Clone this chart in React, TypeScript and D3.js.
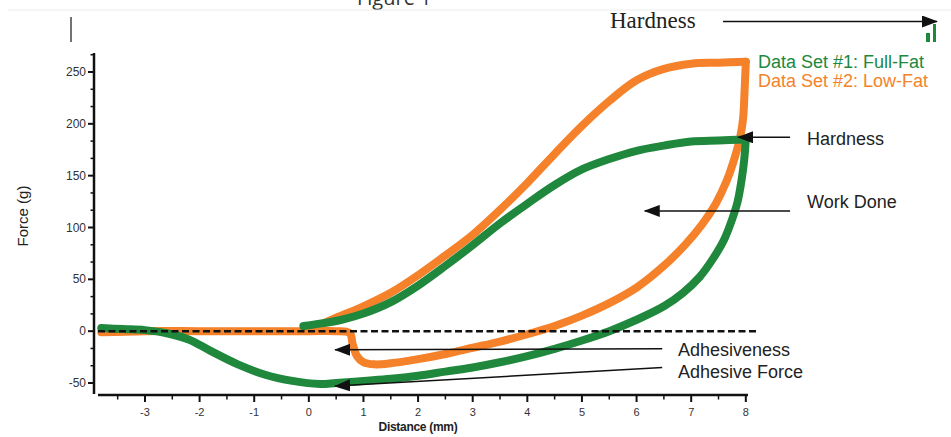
import React from 'react';
import * as d3 from 'd3';

// Full-fat sample (green): probe going down, then coming back up
const greenLoadDist = [-0.1, 0.3, 0.6, 1.0, 1.5, 2.0, 2.5, 3.0, 3.5, 4.0, 4.5, 5.0, 5.5, 6.0, 6.5, 7.0, 7.5, 8.0];
const greenLoadForce = [5, 8, 11, 17, 28, 44, 63, 83, 104, 123, 141, 156, 166, 174, 179, 183, 184, 185];
const greenUnloadDist = [8.0, 7.97, 7.92, 7.85, 7.75, 7.6, 7.4, 7.15, 6.85, 6.5, 6.0, 5.5, 5.0, 4.5, 4.0, 3.5, 3.0, 2.5, 2.0, 1.5, 1.0, 0.5, 0.2, -0.3, -0.8, -1.3, -1.8, -2.2, -2.6, -3.0, -3.4, -3.8];
const greenUnloadForce = [185, 165, 145, 125, 108, 88, 70, 52, 37, 24, 11, 0, -9, -17, -24, -30, -35, -39, -43, -46, -48, -50, -51, -48, -42, -32, -19, -8, -2, 1, 2, 3];

// Low-fat sample (orange)
const orangeLoadDist = [0.0, 0.5, 1.0, 1.5, 2.0, 2.5, 3.0, 3.5, 4.0, 4.5, 5.0, 5.5, 6.0, 6.5, 7.0, 7.5, 8.0];
const orangeLoadForce = [1, 13, 24, 37, 54, 73, 93, 117, 143, 171, 198, 222, 242, 253, 258, 259, 260];
const orangeUnloadDist = [8.0, 7.98, 7.95, 7.9, 7.8, 7.65, 7.45, 7.2, 6.9, 6.5, 6.0, 5.5, 5.0, 4.5, 4.0, 3.5, 3.0, 2.5, 2.0, 1.5, 1.2, 1.0, 0.88, 0.8, 0.75, 0.5, 0, -1, -2, -3, -3.8];
const orangeUnloadForce = [260, 235, 205, 188, 168, 145, 123, 103, 84, 63, 42, 27, 15, 5, -3, -10, -16, -22, -27, -31, -32, -30, -24, -12, -2, 0, 0, 0, 0, 0, -1];

const xTickValues = [-3, -2, -1, 0, 1, 2, 3, 4, 5, 6, 7, 8];
const yTickValues = [-50, 0, 50, 100, 150, 200, 250];

const legendLabels = ['Data Set #1: Full-Fat', 'Data Set #2: Low-Fat'];

// arrows point at features of the curves (distance, force)
const annotations = [
  { label: 'Hardness', tail: [8.81, 187], tip: [7.86, 187], tx: 807, ty: 145 },
  { label: 'Work Done', tail: [8.81, 116], tip: [6.15, 116], tx: 807, ty: 208 },
  { label: 'Adhesiveness', tail: [6.47, -17], tip: [0.48, -18], tx: 678, ty: 356 },
  { label: 'Adhesive Force', tail: [6.47, -35], tip: [0.48, -53], tx: 678, ty: 378 },
];

const W = 951;
const H = 437;
const GREEN = '#20883d';
const ORANGE = '#f5822a';

const x = d3.scaleLinear().domain([-3.86, 8.04]).range([98, 748]);
const y = d3.scaleLinear().domain([-50, 250]).range([383, 72]);

const line = d3
  .line<[number, number]>()
  .x((d) => x(d[0]))
  .y((d) => y(d[1]))
  .curve(d3.curveCatmullRom.alpha(0.5));

const yMinor = d3.range(-50, 268, 50 / 3).filter((v) => Math.abs(v / 50 - Math.round(v / 50)) > 0.01);
const xMinor = xTickValues.map((v) => v - 0.5);

export default function App() {
  const curves = [
    { d: d3.zip(orangeUnloadDist, orangeUnloadForce), c: ORANGE },
    { d: d3.zip(orangeLoadDist, orangeLoadForce), c: ORANGE },
    { d: d3.zip(greenUnloadDist, greenUnloadForce), c: GREEN },
    { d: d3.zip(greenLoadDist, greenLoadForce), c: GREEN },
  ];

  return (
    <svg
      width={W}
      height={H}
      style={{ position: 'absolute', left: 0, top: 0, background: '#fff' }}
      fontFamily="'Liberation Sans', Arial, sans-serif"
    >
      <defs>
        <marker id="arrow" markerUnits="userSpaceOnUse" markerWidth={16} markerHeight={12} refX={15} refY={6} orient="auto">
          <path d="M0,0 L16,6 L0,12 Z" fill="#111" />
        </marker>
      </defs>

      {/* page remnants above the chart */}
      <text x={357} y={5} fontSize={20} fill="#333" fontFamily="'Open Sans', sans-serif">Figure 1</text>
      <line x1={8} x2={951} y1={10} y2={10} stroke="#ececec" />
      <line x1={71} x2={71} y1={17} y2={42} stroke="#444" strokeWidth={1.5} />
      <text x={610} y={28} fontSize={23} fill="#222" fontFamily="'Liberation Serif', 'Times New Roman', serif">Hardness</text>
      <line x1={723} x2={937} y1={21.5} y2={21.5} stroke="#111" strokeWidth={1.5} markerEnd="url(#arrow)" />
      <rect x={933} y={24} width={3} height={18} fill={GREEN} />
      <rect x={926} y={33} width={4} height={9} fill={GREEN} />

      {/* curves */}
      {curves.map((s, i) => (
        <path key={i} d={line(s.d as [number, number][]) || ''} fill="none" stroke={s.c} strokeWidth={8} strokeLinejoin="round" strokeLinecap="round" />
      ))}

      {/* zero line */}
      <line x1={98} x2={757} y1={y(0)} y2={y(0)} stroke="#111" strokeWidth={2.5} strokeDasharray="7,3.5" />

      {/* y axis */}
      <line x1={94} x2={94} y1={53} y2={394} stroke="#111" strokeWidth={2.5} />
      {yTickValues.map((t) => (
        <g key={t}>
          <line x1={88} x2={94} y1={y(t)} y2={y(t)} stroke="#111" strokeWidth={2} />
          <text x={86} y={y(t) + 4} fontSize={12} fill="#333" textAnchor="end">{t}</text>
        </g>
      ))}
      {yMinor.map((t) => (
        <line key={t} x1={90.5} x2={94} y1={y(t)} y2={y(t)} stroke="#111" strokeWidth={1.5} />
      ))}
      <text transform="translate(28,216) rotate(-90)" fontSize={15} fill="#222" textAnchor="middle">Force (g)</text>

      {/* x axis */}
      <line x1={98} x2={748} y1={395} y2={395} stroke="#111" strokeWidth={2.5} />
      {xTickValues.map((t) => (
        <g key={t}>
          <line x1={x(t)} x2={x(t)} y1={395} y2={402} stroke="#111" strokeWidth={2} />
          <text x={x(t)} y={416} fontSize={11} fill="#333" textAnchor="middle">{t}</text>
        </g>
      ))}
      {xMinor.map((t) => (
        <line key={t} x1={x(t)} x2={x(t)} y1={395} y2={399.5} stroke="#111" strokeWidth={1.5} />
      ))}
      <text x={418} y={431} fontSize={12} fontWeight="bold" fill="#222" textAnchor="middle" letterSpacing={-0.3}>Distance (mm)</text>

      {/* legend */}
      <text x={758} y={68} fontSize={18} fill={GREEN}>{legendLabels[0]}</text>
      <text x={758} y={87} fontSize={18} fill={ORANGE}>{legendLabels[1]}</text>

      {/* annotations */}
      {annotations.map((a) => (
        <g key={a.label}>
          <line
            x1={x(a.tail[0])}
            y1={y(a.tail[1])}
            x2={x(a.tip[0])}
            y2={y(a.tip[1])}
            stroke="#111"
            strokeWidth={1.5}
            markerEnd="url(#arrow)"
          />
          <text x={a.tx} y={a.ty} fontSize={18} fill="#222">{a.label}</text>
        </g>
      ))}
    </svg>
  );
}
